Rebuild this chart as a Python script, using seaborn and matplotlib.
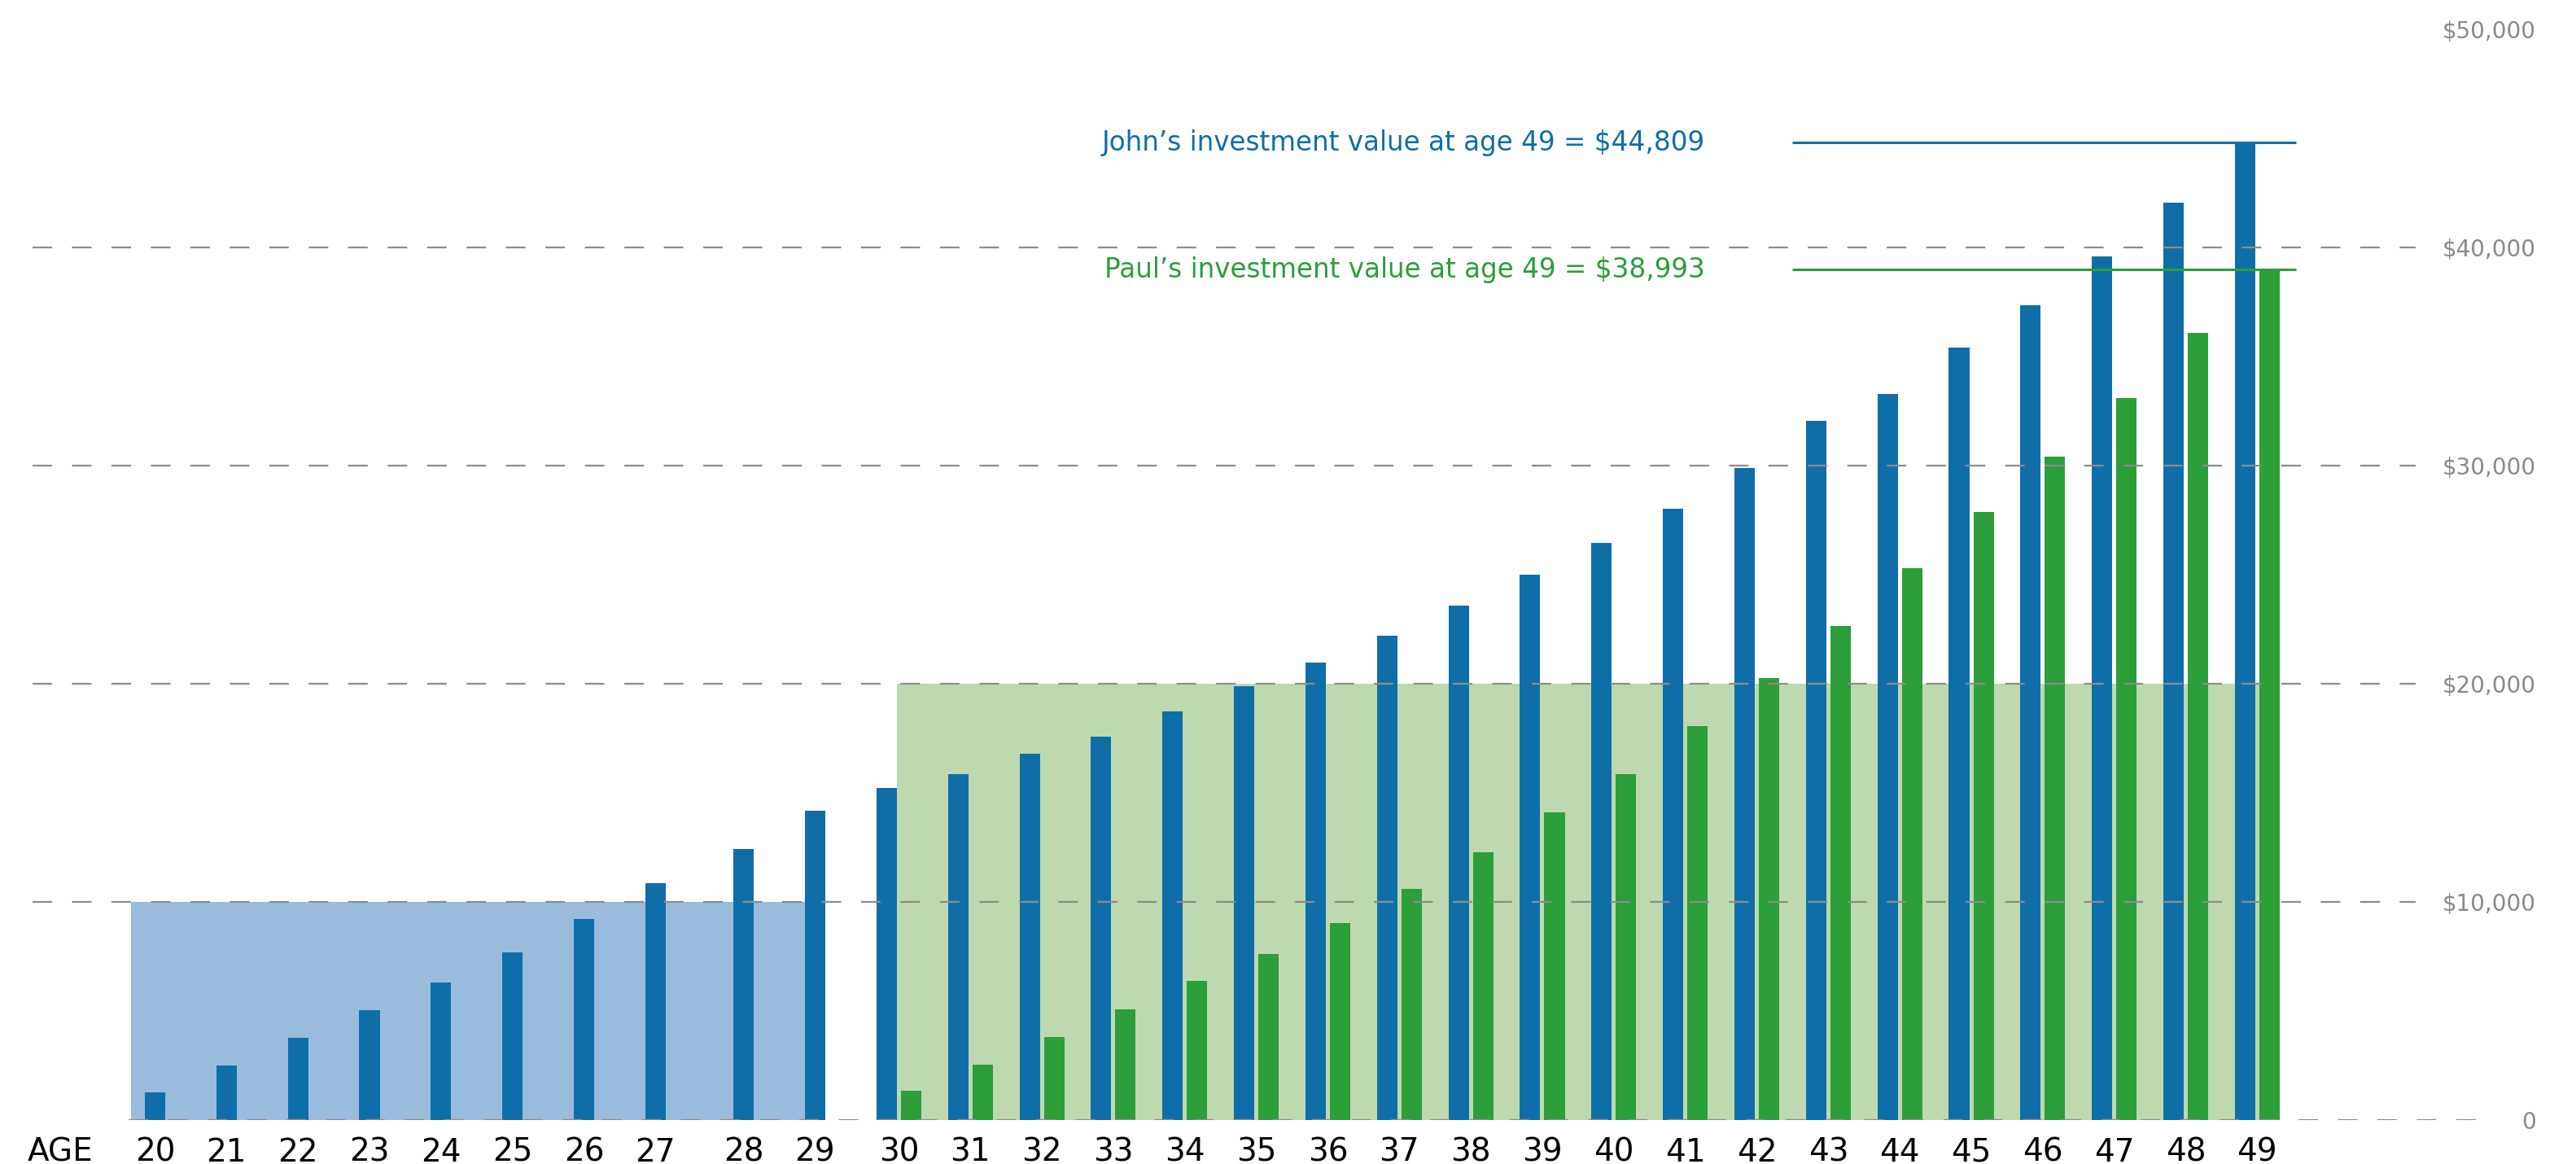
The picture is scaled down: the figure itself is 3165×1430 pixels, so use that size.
import numpy as np
import pandas as pd
import matplotlib
matplotlib.use("Agg")
import matplotlib.pyplot as plt
import seaborn as sns

# values
ages = list(range(20, 50))
john_value = [1253, 2506, 3759, 5049, 6302, 7703, 9214, 10872, 12420, 14172,
              15218, 15853, 16787, 17572, 18730, 19888, 20971, 22204, 23587, 25006,
              26438, 28007, 29882, 32055, 33288, 35417, 37360, 39601, 42067, 44809]
paul_ages = list(range(30, 50))
paul_value = [1327, 2543, 3796, 5086, 6376, 7592, 9029, 10581, 12267, 14097,
              15866, 18070, 20274, 22665, 25280, 27858, 30405, 33101, 36090, 38993]
john_contrib = 10000   # John pays in from 20 to 29
paul_contrib = 20000   # Paul pays in from 30 to 49
john_final = 44809
paul_final = 38993
y_ticks = [0, 10000, 20000, 30000, 40000, 50000]
y_labels = ["0", "$10,000", "$20,000", "$30,000", "$40,000", "$50,000"]

JOHN_BLUE = "#0f6ea8"
JOHN_LIGHT = "#99bcdd"
PAUL_GREEN = "#2c9e3a"
PAUL_LIGHT = "#bed9b0"
GRID_GREY = "#8c8c8c"

sns.set_theme(style="white")
plt.rcParams["font.family"] = ["DejaVu Sans"]
plt.rcParams["lines.scale_dashes"] = False

bar_w = 0.285
pair_off = 0.171
dash = (0, (17.3, 17.6))

john = pd.DataFrame({"age": ages, "value": john_value})
# the original layout leaves a little extra room before 28 and before 30
john["tick"] = john["age"] + 0.23 * (john["age"] >= 28) + 0.175 * (john["age"] >= 30)
john["pos"] = john["tick"] - pair_off * (john["age"] >= 30)
paul = pd.DataFrame({"age": paul_ages, "value": paul_value})
paul["pos"] = john.set_index("age").loc[paul_ages, "tick"].values + pair_off

fig = plt.figure(figsize=(31.65, 14.30), dpi=100)
ax = fig.add_axes([0.01264, 0.0378, 0.9529, 0.937])

# contribution blocks behind the bars
early = john[john["age"] < 30]
ax.fill_between([early["pos"].iloc[0] - 0.34, early["pos"].iloc[-1] - bar_w / 2],
                0, john_contrib, color=JOHN_LIGHT, lw=0, zorder=0)
ax.fill_between([paul["pos"].iloc[0] - 2 * pair_off + bar_w / 2, paul["pos"].iloc[-1] + bar_w / 2],
                0, paul_contrib, color=PAUL_LIGHT, lw=0, zorder=0)

sns.barplot(data=john, x="pos", y="value", native_scale=True, width=bar_w,
            color=JOHN_BLUE, saturation=1, linewidth=0, errorbar=None, ax=ax, zorder=2)
sns.barplot(data=paul, x="pos", y="value", native_scale=True, width=bar_w,
            color=PAUL_GREEN, saturation=1, linewidth=0, errorbar=None, ax=ax, zorder=2)

ax.set_xlim(18.287, 52.622)
ax.set_ylim(0, 50000)

# dashed guide lines drawn over the bars
for v in y_ticks[1:-1]:
    ax.axhline(v, xmin=0, xmax=0.9708, color=GRID_GREY, lw=1.6, linestyle=dash, zorder=3)
ax.axhline(0, xmin=0.0391, xmax=1, color=GRID_GREY, lw=1.6, linestyle=dash, zorder=3)

# final value call-outs
ax.hlines(john_final, 42.90, 49.95, color=JOHN_BLUE, lw=2.2, zorder=4)
ax.text(41.68, john_final, f"John’s investment value at age {ages[-1]} = ${john_final:,}",
        ha="right", va="center", color=JOHN_BLUE, fontsize=23.5)
ax.hlines(paul_final, 42.90, 49.95, color=PAUL_GREEN, lw=2.2, zorder=4)
ax.text(41.68, paul_final, f"Paul’s investment value at age {paul_ages[-1]} = ${paul_final:,}",
        ha="right", va="center", color=PAUL_GREEN, fontsize=23.5)

ax.set_xticks([18.67] + list(john["tick"]), ["AGE"] + [str(a) for a in ages])
ax.tick_params(axis="x", length=0, pad=15, labelsize=28, labelcolor="black")
ax.yaxis.tick_right()
ax.set_yticks(y_ticks, y_labels)
ax.tick_params(axis="y", length=0, pad=43, labelsize=20, labelcolor="#8a8a8a")
for lab in ax.get_yticklabels():
    lab.set_horizontalalignment("right")
ax.set_xlabel("")
ax.set_ylabel("")
for s in ax.spines.values():
    s.set_visible(False)

fig.savefig("out.png", dpi=100)
